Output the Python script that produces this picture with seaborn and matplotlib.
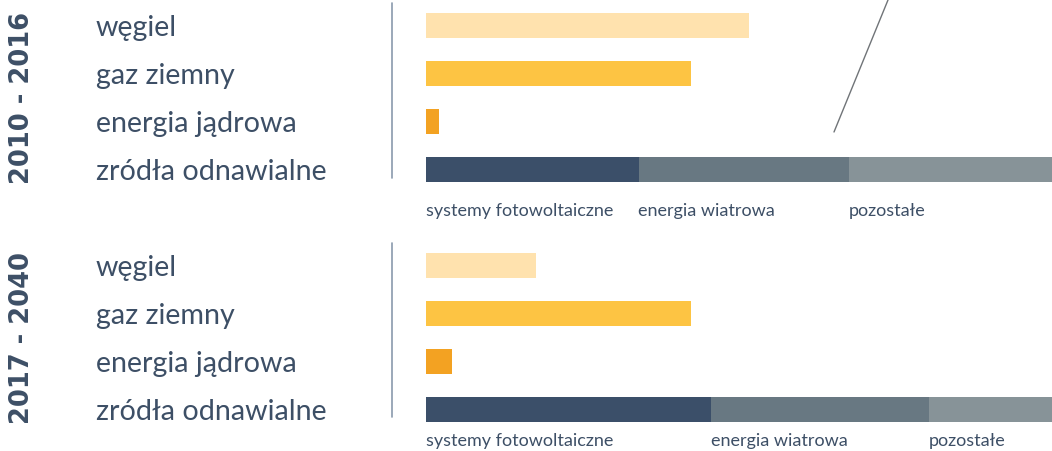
import matplotlib
matplotlib.use("Agg")
import matplotlib.pyplot as plt
import seaborn as sns
import pandas as pd

# ---- data ----
categories = ["węgiel", "gaz ziemny", "energia jądrowa", "zródła odnawialne"]
periods = ["2010 - 2016", "2017 - 2040"]

coal = [129, 44]
gas = [106, 106]
nuclear = [5, 10.5]
pv = [85, 114]
wind = [84, 87]
other = [90, 60]

renew_labels = ["systemy fotowoltaiczne", "energia wiatrowa", "pozostałe"]

# ---- style ----
sns.set_theme(style="white")
plt.rcParams["font.family"] = ["Lato", "DejaVu Sans"]

TEXT = "#3d4f66"
C_COAL = "#FFE2AE"
C_GAS = "#FDC443"
C_NUC = "#F3A222"
C_PV = "#3B4F69"
C_WIND = "#687882"
C_OTHER = "#879398"

W, H = 1052, 451
fig = plt.figure(figsize=(W / 100, H / 100), dpi=100)

x0, x1 = 426, 1052
xmax = (x1 - x0) / 2.5
panel_tops = [1.5, 241.5]  # pixel top of axes (category -0.5)
sep_spans = [(3, 178), (243, 417)]
label_y_px = [211, 441]
row3_px = [169.5, 409.5]

for i in range(2):
    top = panel_tops[i]
    ax = fig.add_axes([x0 / W, 1 - (top + 192) / H, (x1 - x0) / W, 192 / H])
    total = pv[i] + wind[i] + other[i]
    df_single = pd.DataFrame({
        "cat": categories[:3],
        "val": [coal[i], gas[i], nuclear[i]],
    })
    bw = 25 / 48
    sns.barplot(data=df_single, y="cat", x="val", hue="cat",
                palette=[C_COAL, C_GAS, C_NUC], order=categories,
                hue_order=categories[:3], width=bw, saturation=1,
                legend=False, ax=ax, orient="h")
    # stacked renewables via cumulative bars
    for val, col in [(total, C_OTHER), (pv[i] + wind[i], C_WIND), (pv[i], C_PV)]:
        d = pd.DataFrame({"cat": [categories[3]], "val": [val]})
        sns.barplot(data=d, y="cat", x="val", order=categories, color=col,
                    width=bw, saturation=1, ax=ax, orient="h")
    for p in ax.patches:
        p.set_linewidth(0)
    ax.set_xlim(0, xmax)
    ax.set_ylim(3.5, -0.5)
    ax.set_xlabel("")
    ax.set_ylabel("")
    ax.set_xticks([])
    ax.tick_params(axis="y", length=0, pad=(x0 - 96) * 0.72, labelsize=20.6,
                   labelcolor=TEXT)
    for lab in ax.get_yticklabels():
        lab.set_horizontalalignment("left")
    for s in ax.spines.values():
        s.set_visible(False)

    # segment labels under renewables bar
    starts = [0, pv[i], pv[i] + wind[i]]
    ylab = 3 + (label_y_px[i] - row3_px[i]) / 48
    for s_, t in zip(starts, renew_labels):
        ax.text(s_, ylab, t, ha="left", va="center", fontsize=13,
                color=TEXT, clip_on=False)

    # period label (vertical, bold)
    cy = top + 96
    fig.text(22 / W, 1 - cy / H, periods[i], rotation=90, ha="center",
             va="center", fontsize=18.5, fontweight="bold", color=TEXT,
             family="DejaVu Sans")

    # separator line
    ya, yb = sep_spans[i]
    fig.add_artist(plt.Line2D([392 / W, 392 / W], [1 - ya / H, 1 - yb / H],
                              color="#8a9aad", lw=1.2))

# callout line at top right
fig.add_artist(plt.Line2D([834 / W, 888 / W], [1 - 132 / H, 1.0],
                          color="#707478", lw=1.0))

fig.savefig("out.png", dpi=100)
